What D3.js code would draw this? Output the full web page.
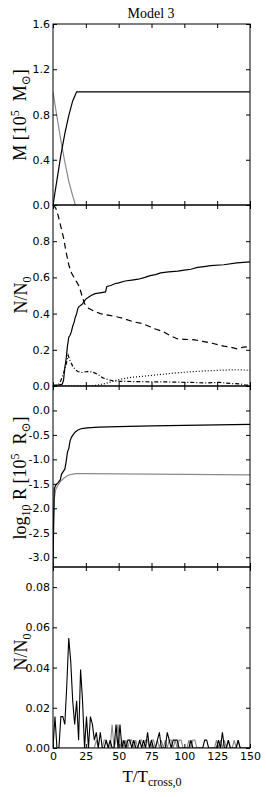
<!DOCTYPE html>
<html>
<head>
<meta charset="utf-8">
<script src="https://cdn.jsdelivr.net/npm/d3@7"></script>
<style>
  body { margin: 0; background: #fff; }
  .tick text { font-family: "DejaVu Sans", sans-serif; font-size: 11px; fill: #000; }
  .lab { font-family: "Liberation Serif", "DejaVu Serif", serif; fill: #000; }
</style>
</head>
<body>
<div id="chart"></div>
<script>
/* Model 3: four stacked panels sharing the time axis */

// panel 1: mass
const massStars = [[0,0],[3,0.22],[6,0.44],[9,0.63],[12,0.79],[15,0.92],[18,1.0],[150,1.0]];
const massGas = [[0,1.0],[3,0.78],[6,0.57],[9,0.38],[12,0.21],[15,0.08],[17,0]];

// panel 2: number fractions
const nSolid = [[0,0.005],[5,0.006],[7,0.01],[8,0.03],[9,0.1],[10,0.15],[11,0.22],[12,0.27],[13,0.28],[14,0.3],[15,0.33],[16,0.35],[17,0.38],[18,0.4],[19,0.43],[20,0.44],[22,0.45],[23,0.46],[24,0.47],[25,0.48],[27,0.49],[29,0.5],[32,0.51],[36,0.515],[40,0.52],[41,0.55],[44,0.555],[47,0.565],[50,0.57],[55,0.58],[60,0.585],[65,0.59],[70,0.6],[74,0.61],[78,0.615],[82,0.625],[88,0.63],[95,0.635],[100,0.64],[105,0.645],[110,0.655],[115,0.66],[120,0.665],[130,0.67],[140,0.68],[150,0.686]];
const nDashed = [[0,1.0],[2,0.985],[4,0.94],[6,0.88],[8,0.82],[10,0.74],[12,0.67],[14,0.625],[16,0.6],[18,0.575],[20,0.55],[22,0.5],[24,0.455],[27,0.43],[31,0.415],[36,0.4],[43,0.39],[50,0.38],[55,0.37],[61,0.355],[68,0.345],[73,0.33],[78,0.315],[84,0.3],[90,0.275],[95,0.26],[100,0.258],[108,0.255],[115,0.245],[122,0.235],[130,0.22],[135,0.215],[140,0.205],[145,0.215],[150,0.218]];
const nDashDot = [[0,0],[4,0.005],[6,0.03],[8,0.07],[10,0.12],[11.5,0.17],[13,0.14],[15,0.11],[17,0.09],[19,0.08],[22,0.075],[26,0.08],[30,0.077],[34,0.065],[38,0.045],[42,0.035],[46,0.028],[51,0.026],[65,0.024],[75,0.023],[85,0.023],[95,0.021],[105,0.02],[115,0.017],[127,0.02],[135,0.014],[142,0.012],[146,0.006],[150,0.004]];
const nDotted = [[0,0],[28,0],[32,0.003],[36,0.008],[40,0.014],[45,0.024],[51,0.037],[60,0.048],[70,0.055],[76,0.059],[90,0.07],[102,0.077],[115,0.083],[127,0.087],[140,0.09],[147,0.088],[150,0.086]];

// panel 3: log radius
const rBlack = [[0,-3.2],[0.5,-2.2],[1,-1.6],[2,-1.53],[4,-1.47],[5.5,-1.42],[6.5,-1.3],[8,-1.24],[9,-1.2],[10,-1.05],[11,-0.85],[12,-0.78],[13,-0.62],[14,-0.55],[15.5,-0.49],[17,-0.44],[19,-0.4],[22,-0.37],[26,-0.355],[35,-0.34],[50,-0.33],[75,-0.315],[100,-0.305],[125,-0.295],[150,-0.285]];
const rGray = [[0,-3.2],[0.5,-2.4],[1,-1.8],[2,-1.62],[4,-1.52],[6,-1.44],[8,-1.39],[10,-1.35],[12,-1.32],[15,-1.3],[18,-1.29],[25,-1.29],[50,-1.295],[100,-1.305],[150,-1.315]];

// panel 4: counts per output step (units of N0/256), one value every 1.5 T_cross
const stepT = 1.5;
const countsBlack = [0,4,0,0,4,4,3,8,14,11,6,3,6,1,10,6,0,4,0,4,3,1,2,0,2,0,0,1,0,1,0,0,3,0,3,0,1,0,1,1,0,1,0,0,1,0,1,0,2,0,1,0,0,1,2,0,0,0,2,1,0,1,1,1,0,0,0,0,0,0,1,0,0,0,0,0,0,1,1,0,0,0,0,0,1,0,2,0,0,1,0,0,0,0,1,0,0,0,0,0,0];
const countsGray = [0,0,0,0,0,0,0,0,0,0,0,0,0,0,0,0,0,0,0,0,0,0,1,0,0,0,1,1,0,0,3,0,1,3,0,1,0,1,0,1,1,0,1,0,1,1,0,1,1,0,1,1,0,1,0,1,0,1,0,1,1,0,1,0,1,1,0,0,0,1,0,1,1,0,0,0,0,0,0,0,0,0,0,1,0,1,0,1,0,1,0,0,1,0,1,0,0,0,0,0,0];
const N0unit = 256;

const xTicks = [0, 25, 50, 75, 100, 125, 150];

const width = 266, height = 797;
const margin = { left: 53, right: 16 };

const svg = d3.select("#chart").append("svg")
    .attr("width", width)
    .attr("height", height);

const x = d3.scaleLinear().domain([0, 150]).range([margin.left, width - margin.right]);

const panels = [
  { top: 24, bottom: 205, domain: [0, 1.6], ticks: [0, 0.4, 0.8, 1.2, 1.6], fmt: d3.format(".1f") },
  { top: 205, bottom: 386, domain: [0, 1.0], ticks: [0, 0.2, 0.4, 0.6, 0.8], fmt: d3.format(".1f") },
  { top: 386, bottom: 567, domain: [-3.2, 0.5], ticks: [-3, -2.5, -2, -1.5, -1, -0.5, 0], fmt: d => d3.format(".1f")(d).replace("\u2212", "-") },
  { top: 567, bottom: 748, domain: [0, 0.09], ticks: [0, 0.02, 0.04, 0.06, 0.08], fmt: d3.format(".2f") }
];

panels.forEach((p, i) => {
  p.y = d3.scaleLinear().domain(p.domain).range([p.bottom, p.top]);
  svg.append("clipPath").attr("id", "clip" + i)
    .append("rect")
    .attr("x", margin.left).attr("y", p.top)
    .attr("width", x(150) - margin.left).attr("height", p.bottom - p.top);
});

function drawLine(i, data, color, dash, w) {
  const p = panels[i];
  const line = d3.line().x(d => x(d[0])).y(d => p.y(d[1]));
  svg.append("path")
    .datum(data)
    .attr("clip-path", `url(#clip${i})`)
    .attr("fill", "none")
    .attr("stroke", color)
    .attr("stroke-width", w || 1.2)
    .attr("stroke-dasharray", dash || null)
    .attr("d", line);
}

drawLine(0, massGas, "#8a8a8a");
drawLine(0, massStars, "#000");

drawLine(1, nDotted, "#000", "1,2");
drawLine(1, nDashDot, "#000", "4,2,1,2");
drawLine(1, nDashed, "#000", "6,4");
drawLine(1, nSolid, "#000");

drawLine(2, rGray, "#8a8a8a");
drawLine(2, rBlack, "#000");

const grayPts = countsGray.map((c, k) => [k * stepT, c / N0unit]);
const blackPts = countsBlack.map((c, k) => [k * stepT, c / N0unit]);
drawLine(3, grayPts, "#8a8a8a", null, 1.1);
drawLine(3, blackPts, "#000", null, 1.1);

// axes and frames
panels.forEach((p, i) => {
  const last = i === panels.length - 1;

  svg.append("g")
    .attr("transform", `translate(${margin.left},0)`)
    .call(d3.axisLeft(p.y).tickValues(p.ticks).tickFormat(p.fmt).tickSize(-4).tickPadding(3))
    .call(g => g.select(".domain").remove());

  svg.append("g")
    .attr("transform", `translate(${x(150)},0)`)
    .call(d3.axisRight(p.y).tickValues(p.ticks).tickFormat("").tickSize(-4))
    .call(g => g.select(".domain").remove());

  svg.append("g")
    .attr("transform", `translate(0,${p.top})`)
    .call(d3.axisTop(x).tickValues(xTicks).tickFormat("").tickSize(-4))
    .call(g => g.select(".domain").remove());

  svg.append("g")
    .attr("transform", `translate(0,${p.bottom})`)
    .call(d3.axisBottom(x).tickValues(xTicks).tickFormat(last ? d3.format("d") : "").tickSize(-4).tickPadding(4))
    .call(g => g.select(".domain").remove());

  svg.append("rect")
    .attr("x", margin.left).attr("y", p.top)
    .attr("width", x(150) - margin.left).attr("height", p.bottom - p.top)
    .attr("fill", "none").attr("stroke", "#000").attr("stroke-width", 1);
});

// title
svg.append("text").attr("class", "lab")
  .attr("x", 151).attr("y", 18)
  .attr("text-anchor", "middle").attr("font-size", 14)
  .text("Model 3");

// y labels
function yLabel(cx, cy, parts) {
  const t = svg.append("text").attr("class", "lab")
    .attr("transform", `translate(${cx},${cy}) rotate(-90)`)
    .attr("text-anchor", "middle").attr("font-size", 18);
  parts.forEach(pt => {
    const s = t.append("tspan").text(pt.t);
    if (pt.sup) s.attr("dy", -7).attr("font-size", 12);
    if (pt.sub) s.attr("dy", 4).attr("font-size", 12);
    if (pt.back) s.attr("dy", pt.back);
  });
}

yLabel(26, 115, [{ t: "M [10" }, { t: "5", sup: true }, { t: "\u2002M", back: 7 }, { t: "\u2299", sub: true }, { t: "]", back: -4 }]);
yLabel(27, 295, [{ t: "N/N" }, { t: "0", sub: true }]);
yLabel(26, 478, [{ t: "log" }, { t: "10", sub: true }, { t: " R [10", back: -4 }, { t: "5", sup: true }, { t: "\u2002R", back: 7 }, { t: "\u2299", sub: true }, { t: "]", back: -4 }]);
yLabel(27, 652, [{ t: "N/N" }, { t: "0", sub: true }]);

// x label
const xl = svg.append("text").attr("class", "lab")
  .attr("x", 152).attr("y", 782)
  .attr("text-anchor", "middle").attr("font-size", 17);
xl.append("tspan").text("T/T");
xl.append("tspan").text("cross,0").attr("dy", 4).attr("font-size", 12);
</script>
</body>
</html>
